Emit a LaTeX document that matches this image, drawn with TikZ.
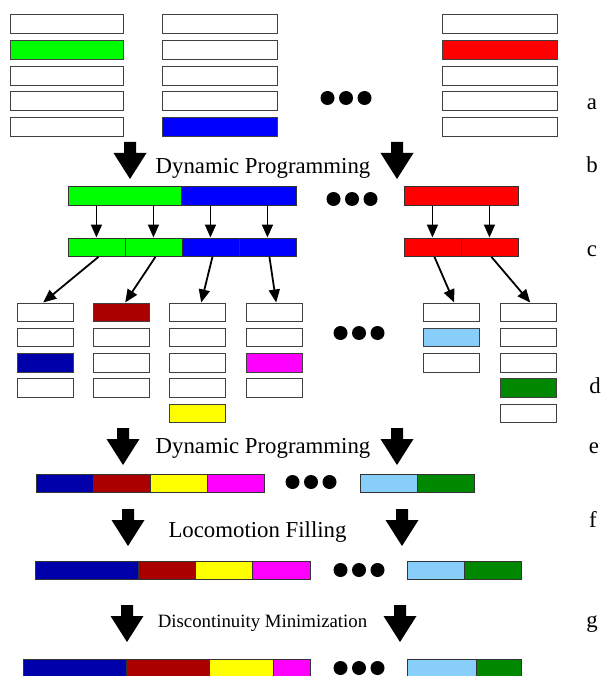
\documentclass[tikz,border=0pt]{standalone}
\usepackage{fontspec}
\setmainfont{Liberation Serif}
\usetikzlibrary{arrows.meta,calc}
\definecolor{cgreen}{RGB}{0,255,0}
\definecolor{cblue}{RGB}{0,0,255}
\definecolor{cred}{RGB}{255,0,0}
\definecolor{dblue}{RGB}{0,0,170}
\definecolor{dred}{RGB}{170,0,0}
\definecolor{cyel}{RGB}{255,255,0}
\definecolor{cmag}{RGB}{255,0,255}
\definecolor{lblue}{RGB}{135,206,250}
\definecolor{dgreen}{RGB}{0,136,0}
\begin{document}
\begin{tikzpicture}[x=1pt,y=-1pt,
  box/.style={draw=black!75, line width=0.9pt, inner sep=0pt, anchor=north west, minimum height=19pt},
  seg/.style={draw=black!80, line width=0.9pt, inner sep=0pt, anchor=north west, minimum height=18.5pt},
  sarrow/.style={line width=1.8pt, -{Triangle[length=13pt,width=11pt]}},
  ttl/.style={font=\fontsize{22.8}{27}\selectfont, anchor=base, inner sep=0pt},
  ttls/.style={font=\fontsize{18.8}{22}\selectfont, anchor=base, inner sep=0pt},
  bigarrow/.pic={\fill[black] (-6,0) -- (6,0) -- (6,11) -- (16.5,11) -- (0,37) -- (-16.5,11) -- (-6,11) -- cycle;}
]
\useasboundingbox (0,0) rectangle (601,676);

% ---- row a
\foreach \c [count=\i from 0] in {white,cgreen,white,white,white}
  \node[box, fill=\c, minimum width=113pt] (aa\i) at (9.5,{14.5+25.6*\i}) {};
\foreach \c [count=\i from 0] in {white,white,white,white,cblue}
  \node[box, fill=\c, minimum width=115pt] (ab\i) at (161.5,{14.5+25.6*\i}) {};
\foreach \c [count=\i from 0] in {white,cred,white,white,white}
  \node[box, fill=\c, minimum width=115pt] (ac\i) at (441.5,{14.5+25.6*\i}) {};

% ---- dots
\foreach \x/\y in {346/98, 352/199, 359/333, 311/482, 359/570, 359/668}
  \foreach \d in {-18.5,0,18.5}
    \fill ({\x+\d},\y) circle (7pt);

% ---- big arrows and titles
\pic at (130,142) {bigarrow};
\pic at (397,142) {bigarrow};
\node[ttl] (tb) at (263,174) {Dynamic Programming};
\pic at (123,428) {bigarrow};
\pic at (397,428) {bigarrow};
\node[ttl] (te) at (263,453) {Dynamic Programming};
\pic at (128,509) {bigarrow};
\pic at (402,509) {bigarrow};
\node[ttl] (tf) at (257.5,537) {Locomotion Filling};
\pic at (127,605) {bigarrow};
\pic at (400,605) {bigarrow};
\node[ttls] (tg) at (262.5,627) {Discontinuity Minimization};

% ---- row labels
\node[ttl] (la) at (592,110) {a};
\node[ttl] (lb) at (592,173) {b};
\node[ttl] (lc) at (592,256) {c};
\node[ttl] (ld) at (595,393) {d};
\node[ttl] (le) at (594,453) {e};
\node[ttl] (lf) at (593,527) {f};
\node[ttl] (lg) at (592,627) {g};

% ---- row b
\node[seg, fill=cgreen, minimum width=113.5pt] (b1) at (67.5,186.5) {};
\node[seg, fill=cblue, minimum width=114.5pt] (b2) at (181,186.5) {};
\node[seg, fill=cred, minimum width=114pt] (br) at (403.5,186.5) {};

% ---- row c
\node[seg, fill=cgreen, minimum width=57pt] (c1) at (67.5,237.5) {};
\node[seg, fill=cgreen, minimum width=57pt] (c2) at (124.5,237.5) {};
\node[seg, fill=cblue, minimum width=57pt] (c3) at (181.5,237.5) {};
\node[seg, fill=cblue, minimum width=57pt] (c4) at (238.5,237.5) {};
\node[seg, fill=cred, minimum width=57pt] (cr1) at (403.5,237.5) {};
\node[seg, fill=cred, minimum width=57pt] (cr2) at (460.5,237.5) {};

\foreach \n/\b in {c1/b1,c2/b1,c3/b2,c4/b2,cr1/br,cr2/br}
  \draw[sarrow] (\n.north |- \b.south) -- (\n.north);

% ---- row d
\foreach \k/\x/\cols in {1/16.5/{white,white,dblue,white},
                         2/92.5/{dred,white,white,white},
                         3/168.5/{white,white,white,white,cyel},
                         4/245.5/{white,white,cmag,white},
                         5/422.5/{white,lblue,white},
                         6/499.5/{white,white,white,dgreen,white}}
  \foreach \c [count=\i from 0] in \cols
    \node[box, fill=\c, minimum width=56.5pt, minimum height=18.5pt] (d\k-\i) at (\x,{302.5+25.3*\i}) {};

\draw[sarrow] ($(c1.south)+(2,0)$) -- ($(d1-0.north)+(-2,0)$);
\draw[sarrow] ($(c2.south)+(2,0)$) -- ($(d2-0.north)+(4,0)$);
\draw[sarrow] ($(c3.south)+(2,0)$) -- ($(d3-0.north)+(4,0)$);
\draw[sarrow] ($(c4.south)+(2,0)$) -- ($(d4-0.north)+(2,0)$);
\draw[sarrow] ($(cr1.south)+(2,0)$) -- ($(d5-0.north)+(3,0)$);
\draw[sarrow] ($(cr2.south)+(2,0)$) -- ($(d6-0.north)+(2,0)$);

% ---- row e
\foreach \c [count=\i from 0] in {dblue,dred,cyel,cmag}
  \node[seg, fill=\c, minimum width=57pt] (e\i) at ({35.5+57*\i},473.5) {};
\node[seg, fill=lblue, minimum width=57pt] (er1) at (359.5,473.5) {};
\node[seg, fill=dgreen, minimum width=57pt] (er2) at (416.5,473.5) {};

% ---- row f
\node[seg, fill=dblue, minimum width=103.5pt] (f1) at (34.5,560.5) {};
\node[seg, fill=dred, minimum width=57pt] (f2) at (138,560.5) {};
\node[seg, fill=cyel, minimum width=57pt] (f3) at (195,560.5) {};
\node[seg, fill=cmag, minimum width=57.5pt] (f4) at (252,560.5) {};
\node[seg, fill=lblue, minimum width=57pt] (fr1) at (407,560.5) {};
\node[seg, fill=dgreen, minimum width=57pt] (fr2) at (464,560.5) {};

% ---- row g
\node[seg, fill=dblue, minimum width=103pt] (g1) at (23,658.5) {};
\node[seg, fill=dred, minimum width=83pt] (g2) at (126,658.5) {};
\node[seg, fill=cyel, minimum width=64pt] (g3) at (209,658.5) {};
\node[seg, fill=cmag, minimum width=37pt] (g4) at (273,658.5) {};
\node[seg, fill=lblue, minimum width=69pt] (gr1) at (407,658.5) {};
\node[seg, fill=dgreen, minimum width=45pt] (gr2) at (476,658.5) {};
\end{tikzpicture}
\end{document}
